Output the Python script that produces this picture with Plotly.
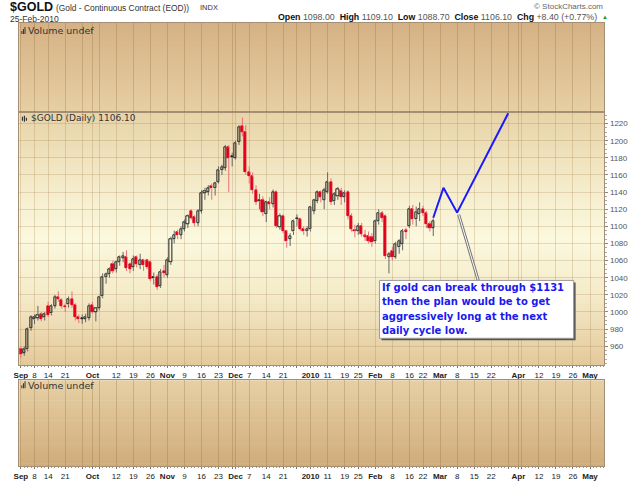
import plotly.graph_objects as go
import pandas as pd

# ---------------- data ----------------
holidays = ["2009-09-07", "2009-11-26", "2009-12-25", "2010-01-01",
            "2010-01-18", "2010-02-15", "2010-04-02"]

opens = [957, 952, 956, 981, 991, 993, 997, 994, 1007, 998, 1007, 1017, 1014, 1007, 1009, 1015, 1008, 994, 993, 992, 993,
         1008, 1000, 1004, 1018, 1040, 1044, 1056, 1050, 1058, 1063, 1064, 1056, 1052, 1064, 1054, 1060, 1060, 1058, 1040, 1041, 1030, 1048,
         1043, 1058, 1085, 1093, 1090, 1097, 1103, 1118, 1111, 1104, 1118, 1139, 1140, 1147, 1144, 1152, 1165, 1168, 1192, 1182,
         1180, 1198, 1217, 1210, 1163, 1158, 1142, 1129, 1131, 1114, 1128, 1126, 1140, 1099, 1112, 1094, 1085, 1094, 1109, 1108, 1097, 1094,
         1096, 1118, 1129, 1140, 1131, 1140, 1152, 1129, 1135, 1141, 1134, 1140, 1112, 1095, 1094, 1100, 1089, 1088, 1087,
         1082, 1106, 1115, 1112, 1064, 1071, 1064, 1075, 1079, 1095, 1100, 1120, 1108, 1114, 1120, 1115, 1103, 1098]
highs = [959, 960, 982, 996, 997, 1007, 1000, 1000, 1012, 1009, 1020, 1024, 1016, 1010, 1018, 1024, 1010, 997, 997, 998, 1010,
         1012, 1005, 1019, 1045, 1046, 1052, 1060, 1060, 1066, 1070, 1072, 1058, 1066, 1066, 1068, 1062, 1062, 1060, 1046, 1044, 1050, 1055,
         1064, 1088, 1095, 1096, 1100, 1108, 1114, 1120, 1113, 1120, 1142, 1145, 1148, 1150, 1152, 1170, 1172, 1195, 1195, 1186,
         1200, 1218, 1227, 1218, 1170, 1163, 1148, 1138, 1135, 1130, 1134, 1143, 1142, 1115, 1114, 1096, 1092, 1108, 1114, 1110, 1100, 1100,
         1124, 1132, 1142, 1142, 1145, 1163, 1156, 1140, 1146, 1145, 1142, 1142, 1115, 1102, 1104, 1104, 1096, 1094, 1092,
         1108, 1120, 1118, 1114, 1070, 1076, 1082, 1085, 1097, 1098, 1124, 1125, 1123, 1128, 1124, 1118, 1106, 1109.1]
lows = [946, 949, 954, 978, 986, 990, 989, 990, 994, 996, 1004, 1012, 1004, 1000, 1005, 1005, 990, 987, 986, 988, 990,
        998, 989, 1002, 1016, 1033, 1040, 1045, 1046, 1054, 1058, 1048, 1045, 1048, 1052, 1050, 1048, 1050, 1036, 1032, 1026, 1028, 1040,
        1040, 1055, 1080, 1085, 1085, 1094, 1098, 1108, 1100, 1100, 1115, 1131, 1136, 1131, 1136, 1150, 1160, 1165, 1140, 1170,
        1178, 1195, 1205, 1160, 1150, 1138, 1125, 1120, 1112, 1105, 1120, 1122, 1098, 1096, 1092, 1075, 1077, 1090, 1100, 1095, 1090, 1088,
        1094, 1114, 1127, 1128, 1120, 1138, 1125, 1125, 1131, 1125, 1128, 1108, 1094, 1087, 1090, 1088, 1083, 1080, 1076,
        1080, 1102, 1105, 1062, 1045, 1060, 1062, 1068, 1072, 1085, 1098, 1102, 1100, 1106, 1112, 1098, 1094, 1088.7]
closes = [951, 956, 980, 994, 994, 996, 991, 997, 996, 1007, 1017, 1015, 1007, 1005, 1015, 1008, 994, 991, 992, 994, 1007,
          1000, 1004, 1017, 1041, 1044, 1050, 1048, 1058, 1064, 1065, 1051, 1050, 1062, 1056, 1060, 1054, 1052, 1038, 1039, 1029, 1046, 1045,
          1060, 1085, 1090, 1089, 1096, 1105, 1112, 1110, 1104, 1118, 1139, 1141, 1145, 1144, 1150, 1166, 1169, 1192, 1180, 1181,
          1197, 1216, 1210, 1163, 1158, 1142, 1128, 1131, 1116, 1128, 1126, 1140, 1100, 1112, 1094, 1082, 1088, 1106, 1108, 1097, 1094, 1097,
          1122, 1131, 1140, 1134, 1142, 1152, 1128, 1137, 1143, 1134, 1139, 1112, 1097, 1094, 1100, 1091, 1087, 1082, 1081,
          1106, 1115, 1110, 1065, 1067, 1064, 1079, 1082, 1094, 1093, 1120, 1108, 1116, 1120, 1115, 1102, 1097.7, 1106.1]

tick_dates = ["2009-09-01", "2009-09-08", "2009-09-14", "2009-09-21", "2009-09-28", "2009-10-01", "2009-10-05",
              "2009-10-12", "2009-10-19", "2009-10-26", "2009-11-02", "2009-11-09", "2009-11-16", "2009-11-23",
              "2009-11-30", "2009-12-01", "2009-12-07", "2009-12-14", "2009-12-21", "2009-12-28", "2010-01-04",
              "2010-01-11", "2010-01-19", "2010-01-25", "2010-02-01", "2010-02-08", "2010-02-16", "2010-02-22",
              "2010-03-01", "2010-03-08", "2010-03-15", "2010-03-22", "2010-03-29", "2010-04-01", "2010-04-05",
              "2010-04-12", "2010-04-19", "2010-04-26", "2010-05-03"]
tick_labels = ["<b>Sep</b>", "8", "14", "21", "", "<b>Oct</b>", "", "12", "19", "26", "<b>Nov</b>", "9", "16", "23",
               "", "<b>Dec</b>", "7", "14", "21", "", "<b>2010</b>", "11", "19", "25", "<b>Feb</b>", "8", "16", "22",
               "<b>Mar</b>", "8", "15", "22", "", "<b>Apr</b>", "", "12", "19", "26", "<b>May</b>"]

price_ticks = [960, 980, 1000, 1020, 1040, 1060, 1080, 1100, 1120, 1140, 1160, 1180, 1200, 1220]

proj_dates = ["2010-02-25", "2010-03-02", "2010-03-08", "2010-03-29"]
proj_prices = [1110, 1145, 1116, 1232]

note_lines = ["If gold can break through $1131",
              "then the plan would be to get",
              "aggressively long at the next",
              "daily cycle low."]

# ---------------- calendar ----------------
days = [d.strftime("%Y-%m-%d") for d in pd.bdate_range("2009-09-01", "2010-05-07")]
days = [d for d in days if d not in holidays]
idx = {d: i for i, d in enumerate(days)}
n = len(closes)
xs = list(range(n))
tickvals = [idx[d] for d in tick_dates]

W, H = 640, 481
def px(x):
    return x / W
def py(y):
    return 1 - y / H

# panel geometry (pixels)
L, R = 13.5, 604
TV_T, TV_B = 23, 112.5
PR_T, PR_B = 112.5, 366
BV_T, BV_B = 381, 467

XR = [-0.44, 171.2]

RED = "#e0001a"
BLACK = "#1a1a1a"

# ---------------- candles ----------------
base, height, fills, lcols = [], [], [], []
wx_r, wy_r, wx_b, wy_b = [], [], [], []
for i in range(n):
    o, c, hi, lo = opens[i], closes[i], highs[i], lows[i]
    prev = closes[i - 1] if i else o
    col = RED if c < prev else BLACK
    bl, bh = min(o, c), max(o, c)
    base.append(bl)
    height.append(max(bh - bl, 0.8))
    fills.append(col if c < o else "rgba(0,0,0,0)")
    lcols.append(col)
    wxs, wys = (wx_r, wy_r) if col == RED else (wx_b, wy_b)
    wxs += [i, i, None, i, i, None]
    wys += [hi, bh, None, bl, lo, None]

fig = go.Figure()

fig.add_trace(go.Scatter(x=wx_r, y=wy_r, mode="lines", line=dict(color="#e8707c", width=1),
                         hoverinfo="skip", showlegend=False, xaxis="x", yaxis="y"))
fig.add_trace(go.Scatter(x=wx_b, y=wy_b, mode="lines", line=dict(color="#666666", width=1),
                         hoverinfo="skip", showlegend=False, xaxis="x", yaxis="y"))
fig.add_trace(go.Bar(x=xs, y=height, base=base, width=0.62,
                     marker=dict(color=fills, line=dict(color=lcols, width=1)),
                     showlegend=False, xaxis="x", yaxis="y"))

# projection line
fig.add_trace(go.Scatter(x=[idx[d] for d in proj_dates], y=proj_prices, mode="lines",
                         line=dict(color="#1a1aff", width=2), showlegend=False,
                         xaxis="x", yaxis="y", cliponaxis=False))

# empty traces to make volume panels exist
fig.add_trace(go.Scatter(x=[0], y=[0], mode="markers", marker=dict(opacity=0), showlegend=False,
                         xaxis="x2", yaxis="y2", hoverinfo="skip"))
fig.add_trace(go.Scatter(x=[0], y=[0], mode="markers", marker=dict(opacity=0), showlegend=False,
                         xaxis="x3", yaxis="y3", hoverinfo="skip"))

# ---------------- gradient backgrounds ----------------
def hex2rgb(h):
    h = h.lstrip("#")
    return [int(h[k:k + 2], 16) for k in (0, 2, 4)]

def interp(stops, t):
    for (t0, c0), (t1, c1) in zip(stops[:-1], stops[1:]):
        if t0 <= t <= t1:
            f = (t - t0) / (t1 - t0) if t1 > t0 else 0
            a, b = hex2rgb(c0), hex2rgb(c1)
            return "rgb(%d,%d,%d)" % tuple(round(a[k] + (b[k] - a[k]) * f) for k in range(3))
    return stops[-1][1]

shapes = []
def gradient(x0, x1, y0, y1, stops, nstrip=50):
    for k in range(nstrip):
        t0, t1 = k / nstrip, (k + 1) / nstrip
        ya = y0 + (y1 - y0) * t0
        yb = y0 + (y1 - y0) * t1 + 0.6
        shapes.append(dict(type="rect", xref="paper", yref="paper", layer="below",
                           x0=px(x0), x1=px(x1), y0=py(ya), y1=py(min(yb, y1)),
                           fillcolor=interp(stops, (t0 + t1) / 2), line=dict(width=0)))

gradient(L, R, TV_T, TV_B, [(0, "#d5b285"), (1, "#e6cfa3")], 30)
gradient(L, R, PR_T, PR_B, [(0, "#e7d3a8"), (0.3, "#f5eccb"), (0.5, "#fbf8de"),
                            (0.72, "#f5ebc9"), (1, "#e3c99b")], 70)
gradient(L, R, BV_T, BV_B, [(0, "#e6d0a4"), (1, "#d0ac7c")], 30)

# callout pointer
shapes.append(dict(type="line", xref="paper", yref="paper", x0=px(457), y0=py(215), x1=px(477), y1=py(282),
                   line=dict(color="#777777", width=3)))
shapes.append(dict(type="line", xref="paper", yref="paper", x0=px(457), y0=py(215), x1=px(477), y1=py(282),
                   line=dict(color="#ffffff", width=1)))
# callout box with shadow
shapes.append(dict(type="rect", xref="paper", yref="paper", x0=px(379), y0=py(283), x1=px(575), y1=py(341),
                   fillcolor="#555555", line=dict(width=0)))
shapes.append(dict(type="rect", xref="paper", yref="paper", x0=px(377), y0=py(281), x1=px(573), y1=py(339),
                   fillcolor="#ffffff", line=dict(color="#999999", width=1)))

# small icons
for k, hgt in enumerate([3, 5, 7]):
    for yb in (34, 389):
        shapes.append(dict(type="rect", xref="paper", yref="paper", x0=px(15.5 + 1.6 * k), x1=px(16.5 + 1.6 * k),
                           y0=py(yb), y1=py(yb - hgt), fillcolor="#333333", line=dict(width=0)))
for k, (ya, yb2) in enumerate([(117, 121), (116, 122), (118, 121)]):
    shapes.append(dict(type="rect", xref="paper", yref="paper", x0=px(16 + 2 * k), x1=px(17.2 + 2 * k),
                       y0=py(yb2), y1=py(ya), fillcolor="#333333", line=dict(width=0)))

# ---------------- annotations ----------------
ann = []
def text(x, y, s, size, color="#222", anchor="left", family="Liberation Sans", bold=False):
    ann.append(dict(x=px(x), y=py(y), xref="paper", yref="paper", text=("<b>%s</b>" % s) if bold else s,
                    showarrow=False, xanchor=anchor, yanchor="middle", borderpad=0,
                    font=dict(size=size, color=color, family=family)))

text(3, 7.5, "$GOLD", 12.5, "#111", bold=True)
text(49, 8, "(Gold - Continuous Contract (EOD))", 8.4, "#333")
text(195, 8, "INDX", 7.5, "#333")
text(3, 19.5, "25-Feb-2010", 8.5, "#333")
text(598, 17, "<b>Open</b> <span style='color:#555'>1098.00</span>  <b>High</b> <span style='color:#555'>1109.10</span>  "
     "<b>Low</b> <span style='color:#555'>1088.70</span>  <b>Close</b> <span style='color:#555'>1106.10</span>  "
     "<b>Chg</b> <span style='color:#555'>+8.40 (+0.77%)</span>", 8.8, "#111", anchor="right")
text(601, 17.5, "▲", 6, "#2a9a2a")
text(604, 6.5, "© StockCharts.com", 8, "#666", anchor="right")
text(21, 31, "Volume undef", 9.5, "#333", family="DejaVu Sans")
text(24, 118.5, "$GOLD (Daily) 1106.10", 9, "#333", family="DejaVu Sans")
text(21, 386, "Volume undef", 9.5, "#333", family="DejaVu Sans")

for k, line in enumerate(note_lines):
    text(379, 288 + 14.4 * k, line, 10, "#1a1aee", family="DejaVu Sans", bold=True)

# ---------------- axes ----------------
grid_col = "rgba(150,110,55,0.22)"
vol_grid = "rgba(140,100,50,0.28)"
border = "#a48e74"
tickfont = dict(size=8, color="#222", family="Liberation Sans")

common_x = dict(range=XR, tickvals=tickvals, ticktext=tick_labels, showgrid=True, zeroline=False,
                showline=True, mirror=True, linecolor=border, linewidth=1,
                domain=[px(L), px(R)], fixedrange=True)

fig.update_layout(
    width=W, height=H, margin=dict(l=0, r=0, t=0, b=0),
    paper_bgcolor="white", plot_bgcolor="rgba(0,0,0,0)",
    showlegend=False, bargap=0,
    shapes=shapes, annotations=ann,
    xaxis=dict(**common_x, anchor="y", gridcolor=grid_col, ticks="outside", ticklen=2, tickcolor="#777",
               tickfont=tickfont, showticklabels=True,
               minor=dict(ticks="outside", ticklen=1, tickcolor="#999", tick0=0, dtick=1, showgrid=False)),
    yaxis=dict(domain=[py(PR_B), py(PR_T)], range=[937.8, 1233.2], side="right", anchor="x",
               tickvals=price_ticks, showgrid=True, gridcolor=grid_col, zeroline=False,
               showline=True, mirror=True, linecolor=border, linewidth=1,
               ticks="outside", ticklen=3, tickcolor="#888",
               minor=dict(ticks="outside", ticklen=2, tickcolor="#aaa", dtick=5, showgrid=False),
               tickfont=dict(size=8, color="#555", family="Liberation Sans"), fixedrange=True),
    xaxis2=dict(**common_x, anchor="y2", gridcolor=vol_grid, showticklabels=False, ticks=""),
    yaxis2=dict(domain=[py(TV_B), py(TV_T)], range=[0, 1], anchor="x2", showgrid=False, zeroline=False,
                showticklabels=False, showline=True, mirror=True, linecolor=border, ticks=""),
    xaxis3=dict(**common_x, anchor="y3", gridcolor=vol_grid, ticks="outside", ticklen=2, tickcolor="#777",
                tickfont=tickfont, showticklabels=True,
                minor=dict(ticks="outside", ticklen=1, tickcolor="#999", tick0=0, dtick=1, showgrid=False)),
    yaxis3=dict(domain=[py(BV_B), py(BV_T)], range=[0, 1], anchor="x3", showgrid=False, zeroline=False,
                showticklabels=False, showline=True, mirror=True, linecolor=border, ticks=""),
)

fig.write_html("out.html", config={"displayModeBar": False},
               post_script="document.body.style.margin='0px';document.body.style.overflow='hidden';")
